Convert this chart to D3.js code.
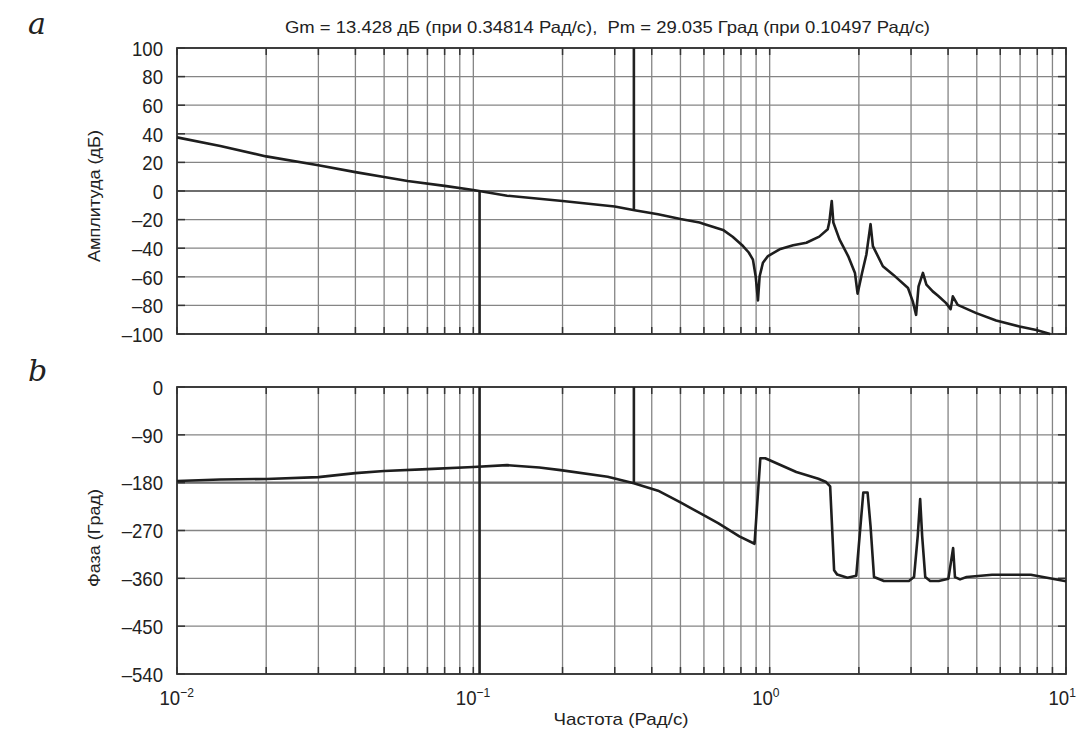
<!DOCTYPE html>
<html><head><meta charset="utf-8">
<script src="https://cdn.jsdelivr.net/npm/d3@7"></script>
<style>
body{margin:0;background:#fff;}
svg{display:block;}
.nf{font-family:"Liberation Sans","Arimo",Arial,sans-serif;fill:#222;white-space:pre;}
</style></head><body>
<svg id="c" width="1078" height="737"></svg>
<script>
// ---- data ----
const titleText = "Gm = 13.428 дБ (при 0.34814 Рад/с),\u00A0\u00A0Pm = 29.035 Град (при 0.10497 Рад/с)";
const magFreq = [0.01,0.014,0.02,0.03,0.04,0.05,0.06,0.08,0.1,0.13,0.2,0.3,0.35,0.42,0.5,0.58,0.6,0.696,0.75,0.813,0.85,0.878,0.897,0.913,0.925,0.949,0.987,1.08,1.2,1.33,1.47,1.57,1.59,1.62,1.64,1.72,1.84,1.94,1.98,2.05,2.12,2.19,2.23,2.41,2.61,2.93,3.04,3.12,3.18,3.29,3.38,3.55,3.70,3.94,4.08,4.15,4.31,4.98,5.81,6.97,7.94,8.84];
const magDb = [37.5,31.5,24.2,18,13.2,9.8,7,3.6,0.7,-3.3,-7,-10.8,-13.4,-16.3,-19.6,-22,-23,-27.2,-32,-38.5,-43,-48,-59.6,-76.5,-59.6,-50.2,-45.5,-40.8,-38,-36.2,-31.9,-26.8,-21.6,-7,-22,-33.8,-45.5,-57.3,-71.8,-57.3,-44.4,-23.2,-38.5,-52.6,-58.5,-67.8,-77.2,-86.6,-66.7,-57.3,-65.5,-70.2,-73.2,-78.4,-82.6,-73.7,-79.6,-85.4,-90.6,-94.8,-97.2,-100];
const phFreq = [0.01,0.014,0.02,0.03,0.04,0.05,0.07,0.1,0.13,0.167,0.197,0.284,0.348,0.42,0.5,0.58,0.67,0.79,0.889,0.93,0.966,1.23,1.46,1.55,1.60,1.65,1.69,1.83,1.96,2.07,2.14,2.19,2.25,2.43,2.95,3.07,3.16,3.22,3.27,3.35,3.48,3.72,4.01,4.16,4.22,4.39,4.62,5.63,7.61,10];
const phDeg = [-177,-174,-173,-169.5,-162,-158,-154.5,-150.5,-147,-151.4,-156.4,-168.8,-181,-195,-217,-237,-256,-281,-295,-134,-134,-160,-172.6,-178.8,-186.8,-345,-353,-359,-355,-198.5,-198.5,-262,-357.6,-365,-365,-357.6,-280,-211,-280,-357.6,-365,-365,-360.6,-303,-357.6,-362,-357.6,-353.2,-353.2,-365.6];
const magTicks = [100,80,60,40,20,0,-20,-40,-60,-80,-100];
const phTicks = [0,-90,-180,-270,-360,-450,-540];
const xDecades = [0.01,0.1,1,10];
const gmFreq = 0.34814, gmDb = -13.428;
const pmFreq = 0.10497, pmDeg = -150.965;

// ---- layout ----
const svg = d3.select("#c");
const X0 = 177, X1 = 1066;
const x = d3.scaleLog().domain([0.01,10]).range([X0,X1]);
const yM = d3.scaleLinear().domain([-100,100]).range([334,48]);
const yP = d3.scaleLinear().domain([-540,0]).range([674,387]);
const SX = 0.93; // horizontal squeeze for numerals

const xGrid = [];
xDecades.slice(0,3).forEach(d=>{for(let k=1;k<=9;k++) xGrid.push(d*k);});
xGrid.push(10);

function panel(y, ticks, refVal, label, labelY, labelLen){
  const g = svg.append("g");
  const [yb, yt] = y.range();
  g.selectAll(".vg").data(xGrid).join("line")
    .attr("x1",d=>x(d)).attr("x2",d=>x(d)).attr("y1",yt).attr("y2",yb)
    .attr("stroke","#858585").attr("stroke-width",1.3);
  g.selectAll(".hg").data(ticks).join("line")
    .attr("x1",X0).attr("x2",X1).attr("y1",d=>y(d)).attr("y2",d=>y(d))
    .attr("stroke","#858585").attr("stroke-width",1.3);
  g.append("line").attr("x1",X0).attr("x2",X1).attr("y1",y(refVal)).attr("y2",y(refVal))
    .attr("stroke","#6e6e6e").attr("stroke-width",2.2);
  g.selectAll(".tt").data(xGrid).join("line")
    .attr("x1",d=>x(d)).attr("x2",d=>x(d)).attr("y1",yt).attr("y2",yt+7)
    .attr("stroke","#333").attr("stroke-width",1.5);
  g.selectAll(".tb").data(xGrid).join("line")
    .attr("x1",d=>x(d)).attr("x2",d=>x(d)).attr("y1",yb).attr("y2",yb-7)
    .attr("stroke","#333").attr("stroke-width",1.5);
  g.selectAll(".tl").data(ticks).join("line")
    .attr("x1",X0).attr("x2",X0+8).attr("y1",d=>y(d)).attr("y2",d=>y(d))
    .attr("stroke","#333").attr("stroke-width",1.5);
  g.selectAll(".tr").data(ticks).join("line")
    .attr("x1",X1).attr("x2",X1-8).attr("y1",d=>y(d)).attr("y2",d=>y(d))
    .attr("stroke","#333").attr("stroke-width",1.5);
  g.append("rect").attr("x",X0).attr("y",yt).attr("width",X1-X0).attr("height",yb-yt)
    .attr("fill","none").attr("stroke","#333").attr("stroke-width",1.8);
  const ax = d3.axisLeft(y).tickValues(ticks).tickSize(0).tickPadding(0)
    .tickFormat(d=> d<0 ? "\u2013"+Math.abs(d) : String(d));
  const ag = svg.append("g").attr("transform",`translate(${X0},0)`).call(ax);
  ag.select(".domain").remove();
  ag.selectAll("text").attr("class","nf").attr("font-size",20).attr("fill","#222")
    .attr("x",-14/SX).attr("dy","0.36em").attr("transform",`scale(${SX},1)`);
  svg.append("text").attr("class","nf").attr("font-size",17)
    .attr("transform",`translate(100,${labelY}) rotate(-90)`).attr("text-anchor","middle")
    .attr("textLength",labelLen).attr("lengthAdjust","spacingAndGlyphs").text(label);
  return g;
}

panel(yM, magTicks, 0, "Амплитуда (дБ)", 196, 132);
panel(yP, phTicks, -180, "Фаза (Град)", 538, 98);

// margin markers
const mk = svg.append("g").attr("stroke","#222").attr("stroke-width",2.6);
mk.append("line").attr("x1",x(pmFreq)).attr("x2",x(pmFreq)).attr("y1",yM(0)).attr("y2",yM(-100));
mk.append("line").attr("x1",x(gmFreq)).attr("x2",x(gmFreq)).attr("y1",yM(100)).attr("y2",yM(gmDb));
mk.append("line").attr("x1",x(pmFreq)).attr("x2",x(pmFreq)).attr("y1",yP(0)).attr("y2",yP(-540));
mk.append("line").attr("x1",x(gmFreq)).attr("x2",x(gmFreq)).attr("y1",yP(0)).attr("y2",yP(-180));

// curves
const magLine = d3.line().x(d=>x(d[0])).y(d=>yM(d[1]));
const phLine = d3.line().x(d=>x(d[0])).y(d=>yP(d[1]));
svg.append("path").datum(d3.zip(magFreq,magDb)).attr("d",magLine)
  .attr("fill","none").attr("stroke","#1e1e1e").attr("stroke-width",2.6).attr("stroke-linejoin","round");
svg.append("path").datum(d3.zip(phFreq,phDeg)).attr("d",phLine)
  .attr("fill","none").attr("stroke","#1e1e1e").attr("stroke-width",2.6).attr("stroke-linejoin","round");

// x axis labels
const xa = d3.axisBottom(x).tickValues(xDecades).tickSize(0).tickPadding(0).tickFormat(()=>"");
const xg = svg.append("g").attr("transform","translate(0,674)").call(xa);
xg.select(".domain").remove();
xg.selectAll(".tick text").each(function(d){
  const t = d3.select(this).attr("class","nf").attr("font-size",20).attr("fill","#222")
    .attr("y",31).attr("dy",0).attr("x",-18/SX).attr("text-anchor","start")
    .attr("transform",`scale(${SX},1)`);
  t.append("tspan").text("10");
  t.append("tspan").attr("font-size",13).attr("dy",-8).text(d3.format("d")(Math.log10(d)).replace("-","\u2212"));
});
svg.append("text").attr("class","nf").attr("font-size",17).attr("x",621).attr("y",725)
  .attr("text-anchor","middle").attr("textLength",135).attr("lengthAdjust","spacingAndGlyphs")
  .text("Частота (Рад/с)");

// title
svg.append("text").attr("class","nf").attr("font-size",16.5).attr("x",285).attr("y",33)
  .attr("textLength",645).attr("lengthAdjust","spacingAndGlyphs").text(titleText);

// panel letters
svg.append("text").attr("x",28).attr("y",34).attr("font-family","'DejaVu Serif','Liberation Serif',serif")
  .attr("font-style","italic").attr("font-size",30).attr("fill","#222").text("a");
svg.append("text").attr("x",28).attr("y",381).attr("font-family","'DejaVu Serif','Liberation Serif',serif")
  .attr("font-style","italic").attr("font-size",30).attr("fill","#222").text("b");
</script></body></html>
